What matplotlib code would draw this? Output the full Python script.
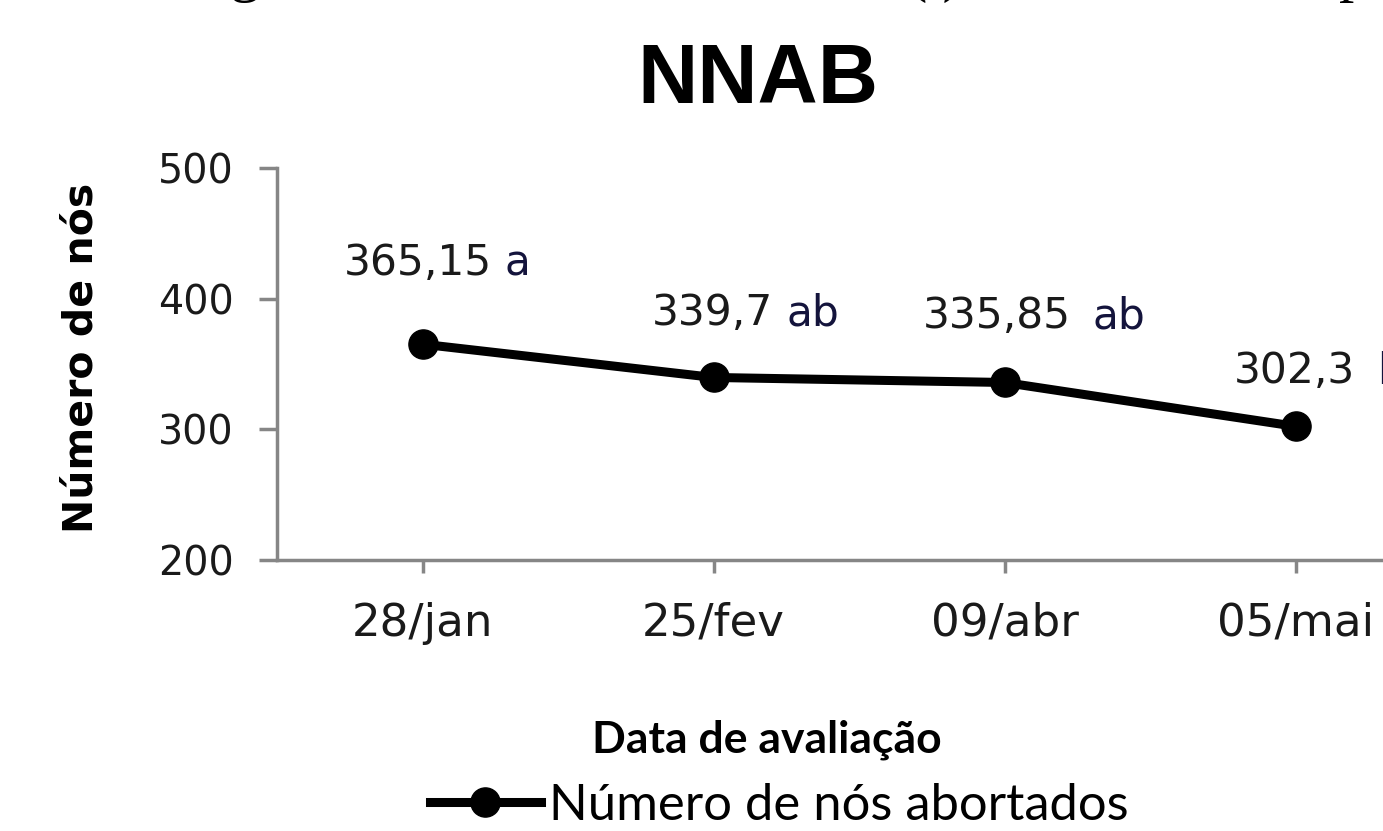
import matplotlib
matplotlib.use("Agg")
import matplotlib.pyplot as plt
from matplotlib.lines import Line2D

# ---- data ----
categories = ["28/jan", "25/fev", "09/abr", "05/mai"]
values = [365.15, 339.7, 335.85, 302.3]
letters = ["a", "ab", "ab", "b"]
yticks = [200, 300, 400, 500]
title = "NNAB"
xlabel = "Data de avaliação"
ylabel = "Número de nós"
series_name = "Número de nós abortados"

W, H, DPI = 1383, 831, 100
fig = plt.figure(figsize=(W / DPI, H / DPI), dpi=DPI)
fig.patch.set_facecolor("white")

# axes in pixel terms: left 277, right 1441 (cropped), bottom 560, top 168
left, right, top, bottom = 277, 1441, 168, 560
ax = fig.add_axes([left / W, (H - bottom) / H, (right - left) / W, (bottom - top) / H])

x = list(range(len(categories)))
ax.plot(x, values, color="black", lw=6.5, marker="o", ms=21, zorder=3,
        solid_capstyle="butt", clip_on=False)
ax.set_xlim(-0.5, len(categories) - 0.5)
ax.set_ylim(200, 500)
ax.set_yticks(yticks)
ax.set_xticks(x)
ax.set_xticklabels(categories)

grey = "#868686"
for s in ["top", "right"]:
    ax.spines[s].set_visible(False)
for s in ["left", "bottom"]:
    ax.spines[s].set_color(grey)
    ax.spines[s].set_linewidth(2.5)
ax.tick_params(axis="y", direction="out", length=13, width=2.5, color=grey,
               labelsize=28.5, pad=18, labelcolor="#1a1a1a")
ax.tick_params(axis="x", direction="out", length=9, width=2.5, color=grey,
               labelsize=32.5, pad=21, labelcolor="#1a1a1a")
for lab in ax.get_yticklabels() + ax.get_xticklabels():
    lab.set_family("DejaVu Sans")

# data labels (number in black, letter in dark navy)
num_dx = [70, 60, 66, 60]
num_dy = [69, 52, 54, 43]
let_dx = [82, 73, 88, 82]
for xi, v, lt, ndx, ndy, ldx in zip(x, values, letters, num_dx, num_dy, let_dx):
    txt = ("%g" % v).replace(".", ",")
    ax.annotate(txt, (xi, v), xytext=(ndx, ndy), textcoords="offset pixels",
                ha="right", va="baseline", fontsize=30.5, color="#1a1a1a",
                family="DejaVu Sans", annotation_clip=False)
    ax.annotate(lt, (xi, v), xytext=(ldx, ndy), textcoords="offset pixels",
                ha="left", va="baseline", fontsize=30.5, color="#14143c",
                family="DejaVu Sans", annotation_clip=False)

# title and axis labels
fig.text(758 / W, 1 - 81 / H, title, ha="center", va="center", fontsize=60,
         fontweight="bold", family="Liberation Sans")
fig.text(82 / W, 1 - 358 / H, ylabel, ha="center", va="center", rotation=90,
         fontsize=29.5, fontweight="bold", family="DejaVu Sans")
fig.text(767 / W, 1 - 740 / H, xlabel, ha="center", va="center", fontsize=32,
         fontweight="bold", family="Lato")

# legend
handle = Line2D([], [], color="black", lw=6.5, marker="o", ms=21)
leg = fig.legend([handle], [series_name], loc="center",
                 bbox_to_anchor=(779 / W, 1 - 806 / H), frameon=False,
                 prop={"family": "Lato", "size": 36.5}, handlelength=2.2,
                 handletextpad=0.15, borderpad=0)

# cropped fragments of text from the page above the chart
for fx, s in [(245, "g"), (935, "( )"), (1354, "p")]:
    fig.text(fx / W, 1 + 10 / H, s, ha="center", va="baseline", fontsize=44,
             family="Liberation Serif")

fig.savefig("out.png", dpi=DPI, facecolor="white")
